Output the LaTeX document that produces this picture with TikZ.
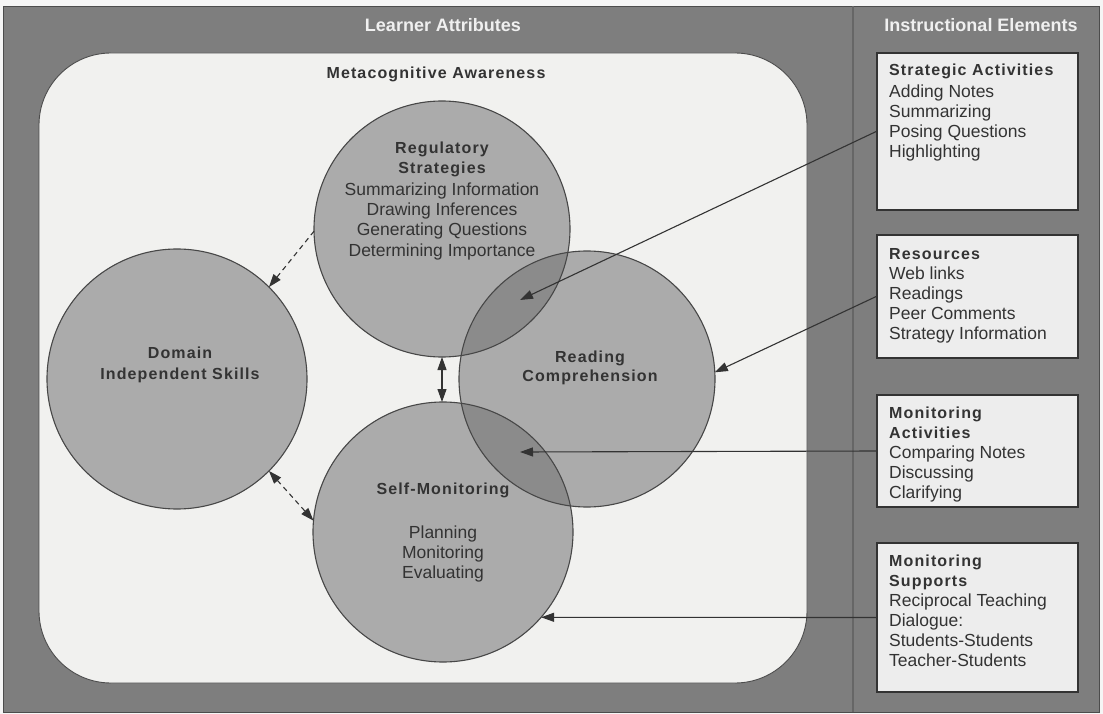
\documentclass[tikz,border=0pt]{standalone}
\usepackage{fontspec}
\setmainfont{Liberation Sans}
\newfontfamily\trackfont{Liberation Sans}[LetterSpace=7]
\usetikzlibrary{arrows.meta}

\definecolor{bgdark}{HTML}{7E7E7E}
\definecolor{panelc}{HTML}{F1F1EF}
\definecolor{discc}{HTML}{ABABAB}
\definecolor{overlapc}{HTML}{8B8B8B}
\definecolor{ink}{HTML}{333333}
\definecolor{boxc}{HTML}{EDEDED}

\tikzset{
  title/.style={font=\bfseries\fontsize{18}{20}\selectfont, text=white!94!black, inner sep=0pt},
  disc/.style={circle, fill=discc, inner sep=0pt, outer sep=0pt},
  hd/.style={anchor=base, inner sep=0pt, text=ink, font=\trackfont\bfseries\fontsize{16}{20}\selectfont},
  item/.style={anchor=base, inner sep=0pt, text=ink, font=\fontsize{17.5}{20}\selectfont},
  boxhd/.style={hd, anchor=base west},
  boxitem/.style={item, anchor=base west},
  infobox/.style={draw=ink, line width=1.6pt, fill=boxc, minimum width=201pt, inner sep=0pt},
  conn/.style={draw=ink, line width=1.1pt, -{Triangle[length=13pt,width=9pt]}},
  dconn/.style={conn, dash pattern=on 5pt off 4pt}
}

\begin{document}
\begin{tikzpicture}[x=1pt, y=-1pt]
\useasboundingbox (0,0) rectangle (1103,714);

% frame and column divider
\fill[white!96!black] (0,0) rectangle (1103,714);
\fill[bgdark] (3,6) rectangle (1099,712);
\draw[black!70, line width=0.8pt] (3,6) rectangle (1099,712);
\draw[black!60, line width=1.4pt] (853,6) -- (853,712);

% column headings
\node[title] (learner) at (443,25) {Learner Attributes};
\node[title] (instr) at (981,25) {Instructional Elements};

% rounded panel of learner attributes
\node[draw=black!70, line width=0.9pt, fill=panelc, rounded corners=72pt,
      minimum width=768pt, minimum height=630pt, inner sep=0pt] (panel) at (423,368) {};
\node[hd] (meta) at (436,79) {Metacognitive Awareness};

% circles
\node[disc, minimum size=256pt] (reg) at (442,229) {};
\node[disc, minimum size=256pt] (read) at (587,379) {};
\node[disc, minimum size=260pt] (dom) at (177,379) {};
\node[disc, minimum size=260pt] (self) at (443,532) {};

% overlaps
\begin{scope}
  \clip (442,229) circle[radius=128pt];
  \fill[overlapc] (587,379) circle[radius=128pt];
\end{scope}
\begin{scope}
  \clip (443,532) circle[radius=130pt];
  \fill[overlapc] (587,379) circle[radius=128pt];
\end{scope}

% outlines
\foreach \c/\r in {reg/128, read/128, dom/130, self/130}
  \draw[black!72, line width=1.1pt] (\c.center) circle[radius=\r pt];

% circle texts
\node[hd] (reg-h1) at (442,154) {Regulatory};
\node[hd] (reg-h2) at (442,174) {Strategies};
\foreach \t [count=\i] in {Summarizing Information, Drawing Inferences, Generating Questions, Determining Importance}
  \node[item] (reg-\i) at (442,{175+20.3*\i}) {\t};

\node[hd] (dom-h1) at (180,358) {Domain};
\node[hd] (dom-h2) at (180,379) {Independent Skills};

\node[hd] (read-h1) at (590,362) {Reading};
\node[hd] (read-h2) at (590,381) {Comprehension};

\node[hd] (self-h) at (443,494) {Self-Monitoring};
\foreach \t [count=\i] in {Planning, Monitoring, Evaluating}
  \node[item] (self-\i) at (443,{518+20*\i}) {\t};

% instructional element boxes
\node[infobox, minimum height=157pt] (box1) at (977.5,131.5) {};
\node[infobox, minimum height=123pt] (box2) at (977.5,296.5) {};
\node[infobox, minimum height=112pt] (box3) at (977.5,451) {};
\node[infobox, minimum height=149pt] (box4) at (977.5,617.5) {};

\node[boxhd] (b1-h) at (889,76) {Strategic Activities};
\foreach \t [count=\i] in {Adding Notes, Summarizing, Posing Questions, Highlighting}
  \node[boxitem] (b1-\i) at (889,{78+20*\i}) {\t};

\node[boxhd] (b2-h) at (889,259) {Resources};
\foreach \t [count=\i] in {Web links, Readings, Peer Comments, Strategy Information}
  \node[boxitem] (b2-\i) at (889,{259+20.2*\i}) {\t};

\node[boxhd] (b3-h1) at (889,418) {Monitoring};
\node[boxhd] (b3-h2) at (889,438) {Activities};
\foreach \t [count=\i] in {Comparing Notes, Discussing, Clarifying}
  \node[boxitem] (b3-\i) at (889,{438+20*\i}) {\t};

\node[boxhd] (b4-h1) at (889,566) {Monitoring};
\node[boxhd] (b4-h2) at (889,586) {Supports};
\foreach \t [count=\i] in {Reciprocal Teaching, Dialogue:, Students-Students, Teacher-Students}
  \node[boxitem] (b4-\i) at (889,{586+20*\i}) {\t};

% connectors
\coordinate (regread) at (520,300);
\coordinate (readself) at (520,452);
\draw[conn] (box1.west) -- (regread);
\draw[conn] (box2.west) -- (read.3);
\draw[conn] (box3.west) -- (readself);
\draw[conn] (box4.west) -- (self.-41);

\draw[dconn] (reg.181) -- (dom.45);
\draw[dconn, {Triangle[length=13pt,width=9pt]}-{Triangle[length=13pt,width=9pt]}] (dom.-45) -- (self.175);
\draw[conn, {Triangle[length=13pt,width=9pt]}-{Triangle[length=13pt,width=9pt]}] (reg.south) -- (reg.south |- self.north);
\end{tikzpicture}
\end{document}
